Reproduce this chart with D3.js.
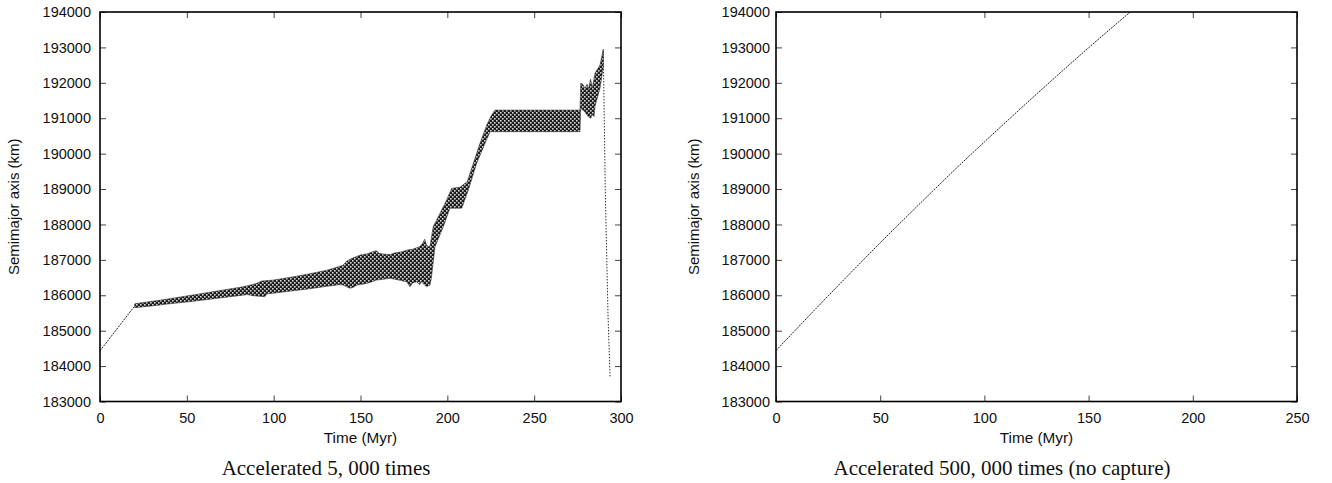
<!DOCTYPE html>
<html><head><meta charset="utf-8">
<script src="https://cdn.jsdelivr.net/npm/d3@7"></script>
<style>
html,body{margin:0;padding:0;background:#fff;}
svg{display:block;}
.tick text{font-family:"Liberation Sans",Arial,Helvetica,sans-serif;font-size:14.5px;fill:#111;}
</style></head>
<body>
<svg id="c" width="1332" height="483"></svg>
<script>
// ---------- data ----------
const yTicks = [183000,184000,185000,186000,187000,188000,189000,190000,191000,192000,193000,194000];
const leftXTicks = [0,50,100,150,200,250,300];
const rightXTicks = [0,50,100,150,200,250];

// left panel: thin line at start (before oscillation band)
const leftStartT = [0, 20];
const leftStartA = [184430, 185700];
// left panel: fast-oscillation band, upper envelope
const bandUpperT = [20,30,40,50,60,70,80,85,90,93,100,110,120,130,135,140,142,144,147,150,154,157,159,161,164,167,170,174,177,180,184,185.5,187,188,189,190,
  191.9,194.8,199.6,202.5,207.3,211.5,215,218.8,222.7,225,227.4,276.4,276.8,278,279.2,280.5,281.2,282.5,283.5,285,287.9,289.8];
const bandUpperA = [185760,185830,185900,185980,186060,186140,186220,186270,186330,186400,186430,186510,186600,186700,186770,186850,186960,187020,187080,187140,187170,187230,187260,187180,187160,187150,187200,187230,187280,187300,187370,187450,187580,187420,187380,187380,
  187940,188220,188690,189020,189050,189210,189730,190290,190810,191050,191230,191230,191990,191960,191850,191960,191820,192100,191850,192270,192500,192950];
// left panel: fast-oscillation band, lower envelope
const bandLowerT = [20,30,40,50,60,70,80,85,88,92,95,96,100,110,120,130,138,140,142,144,146,148,152,156,159,163,167,172,176.6,178.5,180,182.3,184,185,188,190,
  190.8,192.9,197.7,201.5,208.3,212.1,216.9,221.7,224.6,276.4,276.8,279.2,281,282.5,283.5,284.5,285,287.9,289.8];
const bandLowerA = [185650,185700,185760,185810,185870,185930,185990,186020,185990,185970,185960,186040,186060,186120,186180,186250,186300,186290,186240,186200,186230,186290,186320,186370,186430,186450,186480,186430,186380,186240,186350,186380,186300,186380,186240,186290,
  186480,187370,187940,188460,188460,188970,189730,190290,190620,190620,191280,191180,191050,191000,191100,191050,191330,191850,192450];
// left panel: final fall (thin dotted line)
const leftTailT = [289.8, 290.96, 292.5, 293.7];
const leftTailA = [192900, 188925, 185490, 183700];

// right panel
const rightT = [0, 25, 50, 75, 88, 100, 125, 150, 170];
const rightA = [184440, 185980, 187480, 188930, 189670, 190330, 191680, 192990, 194000];

const yLabel = "Semimajor axis (km)";
const xLabel = "Time (Myr)";
const captionLeft = "Accelerated 5, 000 times";
const captionRight = "Accelerated 500, 000 times (no capture)";

// ---------- drawing ----------
const svg = d3.select("#c");
const plotTop = 12, plotBottom = 401.5;

const defs = svg.append("defs");
const pat = defs.append("pattern").attr("id","checker").attr("patternUnits","userSpaceOnUse")
  .attr("width",4).attr("height",4);
pat.append("rect").attr("width",4).attr("height",4).attr("fill","#1c1c1c");
pat.append("rect").attr("x",0).attr("y",0).attr("width",1.6).attr("height",1.6).attr("fill","#d8d8d8");
pat.append("rect").attr("x",2).attr("y",2).attr("width",1.6).attr("height",1.6).attr("fill","#d8d8d8");

function panel(opts){
  const x = d3.scaleLinear().domain(opts.xDomain).range([opts.left, opts.right]);
  const y = d3.scaleLinear().domain([183000,194000]).range([plotBottom, plotTop]);
  const g = svg.append("g");
  const clipId = "clip"+opts.id;
  defs.append("clipPath").attr("id",clipId).append("rect")
    .attr("x",opts.left).attr("y",plotTop).attr("width",opts.right-opts.left).attr("height",plotBottom-plotTop);

  const ax = (a)=>a.tickSizeOuter(0);
  const gl = g.append("g").attr("transform",`translate(${opts.left},0)`)
    .call(ax(d3.axisLeft(y).tickValues(yTicks).tickSize(-6).tickPadding(opts.yPad).tickFormat(d3.format("d"))));
  const gr = g.append("g").attr("transform",`translate(${opts.right},0)`)
    .call(ax(d3.axisRight(y).tickValues(yTicks).tickSize(-6).tickFormat("")));
  const gb = g.append("g").attr("transform",`translate(0,${plotBottom})`)
    .call(ax(d3.axisBottom(x).tickValues(opts.xTicks).tickSize(-6).tickPadding(8).tickFormat(d3.format("d"))));
  const gt = g.append("g").attr("transform",`translate(0,${plotTop})`)
    .call(ax(d3.axisTop(x).tickValues(opts.xTicks).tickSize(-6).tickFormat("")));
  [gl,gr,gb,gt].forEach(a=>{a.select(".domain").remove(); a.selectAll(".tick line").attr("stroke","#444").attr("stroke-width",1);});
  gb.selectAll(".tick text").attr("dy","0.9em");

  const data = g.append("g").attr("clip-path",`url(#${clipId})`);
  opts.draw(data, x, y);

  g.append("rect").attr("x",opts.left).attr("y",plotTop).attr("width",opts.right-opts.left).attr("height",plotBottom-plotTop)
    .attr("fill","none").attr("stroke","#000").attr("stroke-width",1.6);

  g.append("text").attr("transform",`translate(${opts.yLabelX},${(plotTop+plotBottom)/2}) rotate(-90)`)
    .attr("text-anchor","middle").attr("font-family","Liberation Sans, Arial, sans-serif").attr("font-size",15).attr("fill","#111")
    .text(yLabel);
  g.append("text").attr("x",(opts.left+opts.right)/2).attr("y",442.5).attr("text-anchor","middle")
    .attr("font-family","Liberation Sans, Arial, sans-serif").attr("font-size",15.3).attr("fill","#111").text(xLabel);
  g.append("text").attr("x",(opts.left+opts.right)/2-34.5).attr("y",475).attr("text-anchor","middle")
    .attr("font-family","Liberation Serif, Times New Roman, serif").attr("font-size",21).attr("fill","#111").text(opts.caption);
}

const line = (x,y)=>d3.line().x(d=>x(d[0])).y(d=>y(d[1]));

panel({id:"L", left:100, right:621, xDomain:[0,300], xTicks:leftXTicks, yPad:9, yLabelX:19, caption:captionLeft,
  draw:(g,x,y)=>{
    const up = bandUpperT.map((t,i)=>[t,bandUpperA[i]]);
    const lo = bandLowerT.map((t,i)=>[t,bandLowerA[i]]).reverse();
    g.append("path").attr("d", line(x,y)(up.concat(lo))+"Z")
      .attr("fill","url(#checker)").attr("stroke","#333").attr("stroke-width",0.6);
    g.append("path").attr("d", line(x,y)(leftStartT.map((t,i)=>[t,leftStartA[i]])))
      .attr("fill","none").attr("stroke","#222").attr("stroke-width",1).attr("stroke-dasharray","2,1");
    g.append("path").attr("d", line(x,y)(leftTailT.map((t,i)=>[t,leftTailA[i]])))
      .attr("fill","none").attr("stroke","#333").attr("stroke-width",1).attr("stroke-dasharray","1.5,1.5");
  }});

panel({id:"R", left:776, right:1297, xDomain:[0,250], xTicks:rightXTicks, yPad:6, yLabelX:699, caption:captionRight,
  draw:(g,x,y)=>{
    g.append("path").attr("d", line(x,y).curve(d3.curveMonotoneX)(rightT.map((t,i)=>[t,rightA[i]])))
      .attr("fill","none").attr("stroke","#222").attr("stroke-width",1).attr("stroke-dasharray","2,1");
  }});
</script>
</body></html>
